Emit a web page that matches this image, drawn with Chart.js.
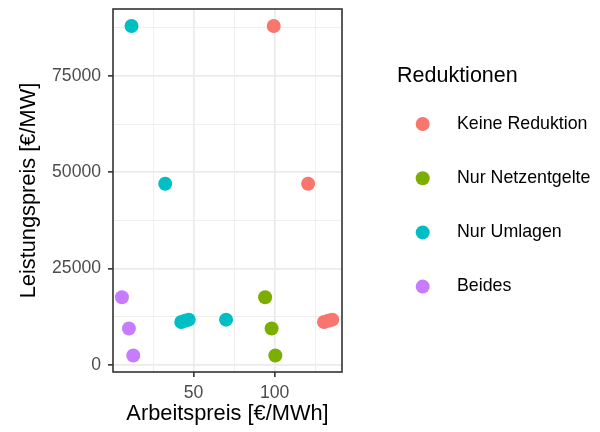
<!DOCTYPE html>
<html>
<head>
<meta charset="utf-8">
<script src="https://cdn.jsdelivr.net/npm/chart.js@4"></script>
<style>
  html, body { margin: 0; padding: 0; background: #fff; }
  #wrap { width: 600px; height: 432px; }
</style>
</head>
<body>
<div id="wrap"><canvas id="ChartReduktionen" width="600" height="432"></canvas></div>
<script>

/// DATEN

const reduktionen = ['Keine Reduktion', 'Nur Netzentgelte', 'Nur Umlagen', 'Beides'];
const farben = ['#F8766D', '#7CAE00', '#00BFC4', '#C77CFF'];

const keine_x = [99.4, 120.6, 130.4, 133.0, 135.5];
const keine_y = [88000, 47000, 11100, 11400, 11700];

const netz_x = [94.1, 98.1, 100.4];
const netz_y = [17500, 9400, 2400];

const umlagen_x = [11.7, 32.5, 42.4, 44.7, 47.0, 70.0];
const umlagen_y = [88000, 47000, 11100, 11400, 11700, 11700];

const beides_x = [5.8, 10.1, 12.8];
const beides_y = [17500, 9400, 2400];

const x_ticks = [25, 50, 75, 100, 125];
const x_labels = [50, 100];
const y_ticks = [0, 12500, 25000, 37500, 50000, 62500, 75000, 87500];
const y_labels = [0, 25000, 50000, 75000];

const FONT = "'Liberation Sans', Arial, Helvetica, sans-serif";

function pontos(xs, ys) {
    return xs.map(function (x, i) { return { x: x, y: ys[i] }; });
}

const series = [
    pontos(keine_x, keine_y),
    pontos(netz_x, netz_y),
    pontos(umlagen_x, umlagen_y),
    pontos(beides_x, beides_y)
];

// sem padding extra dos labels, a area fica onde o layout manda
function sem_padding(s) {
    s.paddingTop = 0;
    s.paddingBottom = 0;
    s.paddingLeft = 0;
    s.paddingRight = 0;
}

/// RAHMEN + LEGENDE

const rahmen = {
    id: 'rahmen',
    afterDraw(chart) {
        const a = chart.chartArea;
        const c = chart.ctx;
        c.save();
        c.strokeStyle = '#333333';
        c.lineWidth = 1.6;
        c.strokeRect(a.left, a.top, a.right - a.left, a.bottom - a.top);

        // legende
        c.fillStyle = '#000';
        c.textBaseline = 'middle';
        c.textAlign = 'left';
        c.font = '21.5px ' + FONT;
        c.fillText('Reduktionen', 397, 76);
        c.font = '17.8px ' + FONT;
        chart.data.datasets.forEach(function (ds, i) {
            const y = 124 + i * 54.2;
            c.beginPath();
            c.arc(422.7, y, 7, 0, Math.PI * 2);
            c.fillStyle = ds.backgroundColor;
            c.fill();
            c.fillStyle = '#000';
            c.fillText(ds.label, 457, y);
        });
        c.restore();
    }
};

const chart_red = document.getElementById('ChartReduktionen');

new Chart(chart_red, {
    type: 'scatter',
    data: {
        datasets: reduktionen.map(function (nome, i) {
            return {
                label: nome,
                data: series[i],
                backgroundColor: farben[i],
                borderWidth: 0,
                pointRadius: 7,
                pointHoverRadius: 7
            };
        })
    },
    options: {
        responsive: false,
        animation: false,
        layout: { padding: { top: 9, right: 258, left: 0, bottom: 0 } },
        plugins: {
            legend: { display: false },
            tooltip: { enabled: false }
        },
        scales: {
            x: {
                type: 'linear',
                min: 0.3,
                max: 141.5,
                afterFit: function (s) { s.height = 60; sem_padding(s); },
                afterBuildTicks: function (s) { s.ticks = x_ticks.map(function (v) { return { value: v }; }); },
                border: { display: false },
                grid: {
                    color: '#ebebeb',
                    lineWidth: function (c) { return x_labels.includes(c.tick.value) ? 1.7 : 0.8; },
                    tickColor: function (c) { return x_labels.includes(c.tick.value) ? '#333333' : 'rgba(0,0,0,0)'; },
                    tickLength: 5,
                    tickWidth: 1.6
                },
                ticks: {
                    padding: 6,
                    color: '#4d4d4d',
                    font: { family: FONT, size: 17.6 },
                    callback: function (v) { return x_labels.includes(v) ? String(v) : ''; }
                },
                title: {
                    display: true,
                    text: 'Arbeitspreis [€/MWh]',
                    color: '#000',
                    font: { family: FONT, size: 21.8 },
                    padding: { top: 0, bottom: 5 }
                }
            },
            y: {
                type: 'linear',
                min: -1900,
                max: 92400,
                afterFit: function (s) { s.width = 113; sem_padding(s); },
                afterBuildTicks: function (s) { s.ticks = y_ticks.map(function (v) { return { value: v }; }); },
                border: { display: false },
                grid: {
                    color: '#ebebeb',
                    lineWidth: function (c) { return y_labels.includes(c.tick.value) ? 1.7 : 0.8; },
                    tickColor: function (c) { return y_labels.includes(c.tick.value) ? '#333333' : 'rgba(0,0,0,0)'; },
                    tickLength: 5,
                    tickWidth: 1.6
                },
                ticks: {
                    padding: 7,
                    color: '#4d4d4d',
                    font: { family: FONT, size: 17.6 },
                    callback: function (v) { return y_labels.includes(v) ? String(v) : ''; }
                },
                title: {
                    display: true,
                    text: 'Leistungspreis [€/MW]',
                    color: '#000',
                    font: { family: FONT, size: 21.8 },
                    padding: { top: 16, bottom: 0 }
                }
            }
        }
    },
    plugins: [rahmen]
});

</script>
</body>
</html>
